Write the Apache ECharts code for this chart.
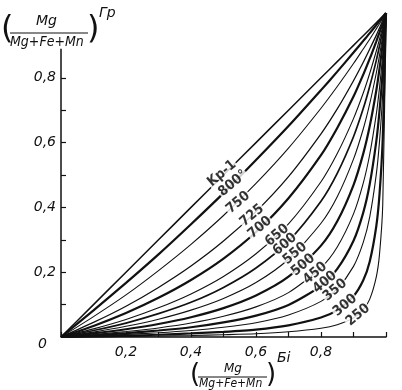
<!DOCTYPE html>
<html><head><meta charset="utf-8">
<script src="https://cdn.jsdelivr.net/npm/echarts@6/dist/echarts.min.js"></script>
<style>html,body{margin:0;padding:0;background:#fff}#c{width:402px;height:390px}</style>
</head><body><div id="c"></div>
<script>
// x samples (Bi ratio)
var xs = [0, 0.1, 0.2, 0.3, 0.4, 0.5, 0.6, 0.7, 0.8, 0.85, 0.9, 0.93, 0.95, 0.97, 0.98, 0.99, 1];
// curve names
var curveNames = ['Kp-1','800°','750','725','700','650','600','550','500','450','400','350','300','250'];
// y values (Gr ratio) read for each curve
var yKp1 = [0, 0.1, 0.2, 0.3, 0.4, 0.5, 0.6, 0.7, 0.8, 0.85, 0.9, 0.93, 0.95, 0.97, 0.98, 0.99, 1];
var y800 = [0, 0.082, 0.167, 0.255, 0.348, 0.444, 0.546, 0.651, 0.762, 0.819, 0.878, 0.914, 0.938, 0.963, 0.975, 0.988, 1];
var y750 = [0, 0.063, 0.130, 0.205, 0.286, 0.375, 0.474, 0.583, 0.706, 0.773, 0.844, 0.889, 0.919, 0.951, 0.967, 0.983, 1];
var y725 = [0, 0.045, 0.095, 0.153, 0.219, 0.296, 0.387, 0.495, 0.627, 0.704, 0.791, 0.848, 0.889, 0.931, 0.954, 0.977, 1];
var y700 = [0, 0.034, 0.074, 0.121, 0.176, 0.242, 0.324, 0.428, 0.561, 0.645, 0.742, 0.810, 0.859, 0.912, 0.940, 0.969, 1];
var y650 = [0, 0.025, 0.054, 0.090, 0.133, 0.187, 0.257, 0.349, 0.479, 0.566, 0.674, 0.753, 0.814, 0.882, 0.919, 0.958, 1];
var y600 = [0, 0.020, 0.043, 0.072, 0.107, 0.153, 0.213, 0.296, 0.419, 0.505, 0.618, 0.705, 0.774, 0.853, 0.898, 0.947, 1];
var y550 = [0, 0.015, 0.033, 0.055, 0.083, 0.119, 0.168, 0.240, 0.351, 0.433, 0.549, 0.642, 0.720, 0.814, 0.869, 0.930, 1];
var y500 = [0, 0.011, 0.024, 0.040, 0.061, 0.089, 0.128, 0.186, 0.282, 0.357, 0.469, 0.566, 0.651, 0.760, 0.828, 0.907, 1];
var y450 = [0, 0.0075, 0.017, 0.028, 0.043, 0.064, 0.093, 0.137, 0.214, 0.278, 0.380, 0.475, 0.564, 0.687, 0.769, 0.871, 1];
var y400 = [0, 0.005, 0.012, 0.020, 0.030, 0.045, 0.066, 0.099, 0.158, 0.210, 0.297, 0.384, 0.472, 0.603, 0.697, 0.823, 1];
var y350 = [0, 0.0034, 0.008, 0.013, 0.020, 0.030, 0.044, 0.068, 0.110, 0.149, 0.218, 0.292, 0.371, 0.501, 0.603, 0.754, 1];
var y300 = [0, 0.0018, 0.004, 0.007, 0.011, 0.016, 0.023, 0.036, 0.060, 0.083, 0.126, 0.175, 0.233, 0.341, 0.440, 0.613, 1];
var y250 = [0, 0.0008, 0.0017, 0.003, 0.0046, 0.007, 0.010, 0.016, 0.027, 0.038, 0.059, 0.085, 0.117, 0.185, 0.255, 0.409, 1];
var curveValues = [yKp1, y800, y750, y725, y700, y650, y600, y550, y500, y450, y400, y350, y300, y250];
// curve label anchor points (on the curves)
var labelX = [0.495, 0.529, 0.545, 0.588, 0.612, 0.665, 0.689, 0.720, 0.745, 0.782, 0.812, 0.843, 0.874, 0.914];
var labelY = [0.505, 0.474, 0.415, 0.375, 0.338, 0.314, 0.286, 0.258, 0.222, 0.197, 0.169, 0.145, 0.098, 0.068];
// tick labels
var tickValues = [0.2, 0.4, 0.6, 0.8];
var tickText = ['0,2', '0,4', '0,6', '0,8'];
var yTickValues = [0.1, 0.2, 0.3, 0.4, 0.5, 0.6, 0.7, 0.8];
var yAxisTop = 0.89;

var widths = [1.5, 2.2, 1.1, 1.3, 2.2, 1.1, 1.7, 1.1, 2.2, 1.1, 2.2, 1.1, 2.2, 1.1];

var series = curveValues.map(function (ys, k) {
  return {
    type: 'line', name: curveNames[k], showSymbol: false, smooth: 0.25,
    data: xs.map(function (x, i) { return [x, ys[i]]; }),
    lineStyle: { color: '#111', width: widths[k] }, z: 2, silent: true
  };
});
series.push({
  type: 'line', showSymbol: false, data: [[0, 0], [0, yAxisTop]],
  lineStyle: { color: '#111', width: 1.5 }, z: 4, silent: true
});
series.push({
  type: 'scatter', symbolSize: 0, z: 10, silent: true,
  data: labelX.map(function (x, i) { return { value: [x, labelY[i]], name: curveNames[i] }; }),
  label: {
    show: true, position: 'inside', formatter: '{b}', rotate: 40,
    fontFamily: 'DejaVu Sans Condensed', fontWeight: 'bold', fontSize: 14, color: '#000',
    backgroundColor: '#fff', padding: [0, 1]
  }
});

function fmt(v) {
  var i = tickValues.findIndex(function (t) { return Math.abs(t - v) < 1e-6; });
  return i >= 0 ? tickText[i] : '';
}

var chart = echarts.init(document.getElementById('c'), null, { renderer: 'canvas' });
chart.setOption({
  animation: false,
  backgroundColor: '#fff',
  grid: { left: 61, right: 16, top: 13, bottom: 53 },
  xAxis: {
    type: 'value', min: 0, max: 1, interval: 0.1,
    axisLine: { lineStyle: { color: '#111', width: 1.5 } },
    axisTick: { inside: true, length: 5, lineStyle: { color: '#111', width: 1.2 } },
    axisLabel: { formatter: fmt, fontFamily: 'DejaVu Sans', fontStyle: 'italic', fontSize: 14, color: '#111', margin: 8, showMaxLabel: true },
    splitLine: { show: false }
  },
  yAxis: {
    type: 'value', min: 0, max: 1, interval: 0.1,
    axisLine: { show: false },
    axisTick: { show: true, inside: true, length: 5, customValues: yTickValues, lineStyle: { color: '#111', width: 1.2 } },
    axisLabel: { formatter: fmt, fontFamily: 'DejaVu Sans', fontStyle: 'italic', fontSize: 14, color: '#111', margin: 5 },
    splitLine: { show: false }
  },
  series: series,
  graphic: [
    { type: 'text', left: 38, top: 337, style: { text: '0', font: 'italic 14px DejaVu Sans', fill: '#111' } },
    // y-axis title
    { type: 'text', left: 1, top: 14, style: { text: '(', font: '32px DejaVu Sans', fill: '#111' } },
    { type: 'text', left: 36, top: 14, style: { text: 'Mg', font: 'italic 14px DejaVu Sans', fill: '#111' } },
    { type: 'line', shape: { x1: 10, y1: 33, x2: 88, y2: 33 }, style: { stroke: '#111', lineWidth: 1.2 } },
    { type: 'text', left: 10, top: 35, style: { text: 'Mg+Fe+Mn', font: 'italic 14px DejaVu Sans Condensed', fill: '#111' } },
    { type: 'text', left: 87, top: 14, style: { text: ')', font: '32px DejaVu Sans', fill: '#111' } },
    { type: 'text', left: 99, top: 6, style: { text: 'Гр', font: 'italic 14px DejaVu Sans', fill: '#111' } },
    // x-axis title
    { type: 'text', left: 190, top: 362, style: { text: '(', font: '26px DejaVu Sans', fill: '#111' } },
    { type: 'text', left: 224, top: 363, style: { text: 'Mg', font: 'italic 12px DejaVu Sans', fill: '#111' } },
    { type: 'line', shape: { x1: 198, y1: 377, x2: 267, y2: 377 }, style: { stroke: '#111', lineWidth: 1 } },
    { type: 'text', left: 199, top: 378, style: { text: 'Mg+Fe+Mn', font: 'italic 12px DejaVu Sans Condensed', fill: '#111' } },
    { type: 'text', left: 266, top: 362, style: { text: ')', font: '26px DejaVu Sans', fill: '#111' } },
    { type: 'text', left: 277, top: 351, style: { text: 'Бi', font: 'italic 14px DejaVu Sans', fill: '#111' } }
  ]
});
</script></body></html>
